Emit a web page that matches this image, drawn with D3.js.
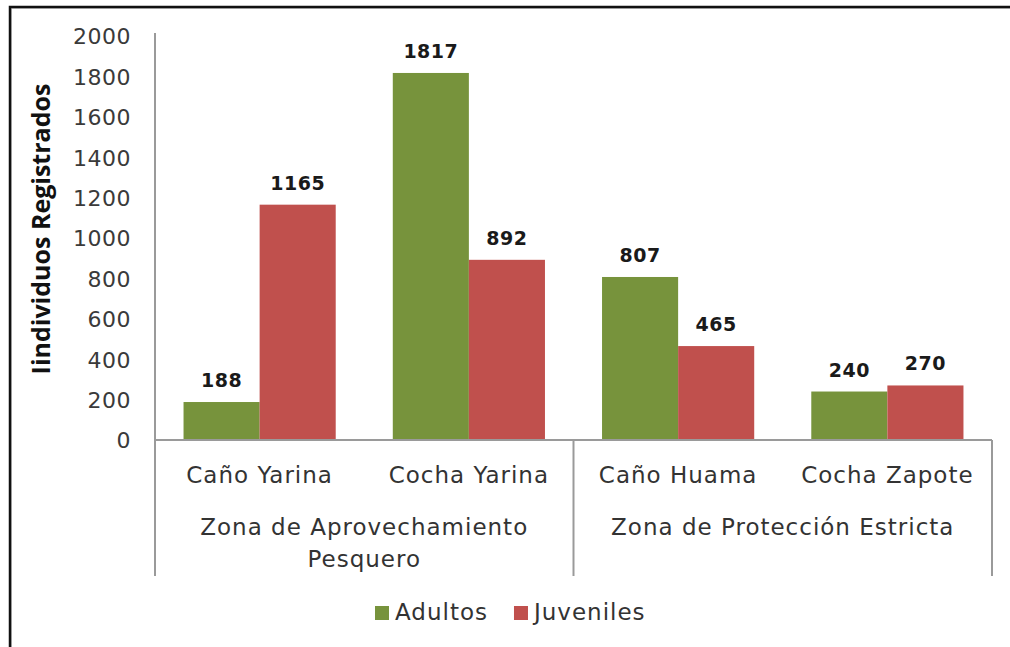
<!DOCTYPE html>
<html>
<head>
<meta charset="utf-8">
<script src="https://cdn.jsdelivr.net/npm/d3@7"></script>
<style>
  body { margin: 0; background: #fff; }
  svg { display: block; }
  text { font-family: "DejaVu Sans", sans-serif; fill: #333; }
</style>
</head>
<body>
<div id="chart"></div>
<script>
//data
var categories = ["Caño Yarina", "Cocha Yarina", "Caño Huama", "Cocha Zapote"];
var groupNames = ["Zona de Aprovechamiento Pesquero", "Zona de Protección Estricta"];
var groupOf = [0, 0, 1, 1];
var seriesNames = ["Adultos", "Juveniles"];
var adultos = [188, 1817, 807, 240];
var juveniles = [1165, 892, 465, 270];
var seriesColors = ["#77933C", "#C0504D"];
var yTicks = [0, 200, 400, 600, 800, 1000, 1200, 1400, 1600, 1800, 2000];

var width = 1010, height = 647;
var plot = {left: 155, right: 992, top: 36, bottom: 440};
var sepBottom = 576;

var svg = d3.select("#chart").append("svg")
  .attr("width", width)
  .attr("height", height);

//frame (only top and left edges show in the picture)
svg.append("path")
  .attr("d", "M10,648 V7 H1011")
  .attr("fill", "none")
  .attr("stroke", "#c8c8c8")
  .attr("stroke-width", 2)
  .attr("transform", "translate(1,1)");
svg.append("path")
  .attr("d", "M10,648 V7 H1011")
  .attr("fill", "none")
  .attr("stroke", "#111")
  .attr("stroke-width", 2.5);

//scales
var x = d3.scaleBand()
  .domain(categories)
  .range([plot.left, plot.right]);

var xs = d3.scaleBand()
  .domain(seriesNames)
  .range([0, x.bandwidth()])
  .paddingOuter(0.375);

var y = d3.scaleLinear()
  .domain([0, 2000])
  .range([plot.bottom, plot.top]);

var rows = categories.map(function(c, i) {
  return {cat: c, values: [adultos[i], juveniles[i]]};
});

//bars
var g = svg.selectAll(".cat")
  .data(rows)
  .enter().append("g")
  .attr("class", "cat")
  .attr("transform", function(d) { return "translate(" + x(d.cat) + ",0)"; });

g.selectAll("rect")
  .data(function(d) { return d.values.map(function(v, j) { return {s: seriesNames[j], v: v, j: j}; }); })
  .enter().append("rect")
  .attr("x", function(d) { return xs(d.s); })
  .attr("y", function(d) { return y(d.v); })
  .attr("width", xs.bandwidth())
  .attr("height", function(d) { return y(0) - y(d.v); })
  .attr("fill", function(d) { return seriesColors[d.j]; });

//value labels
g.selectAll("text.val")
  .data(function(d) { return d.values.map(function(v, j) { return {s: seriesNames[j], v: v}; }); })
  .enter().append("text")
  .attr("class", "val")
  .attr("x", function(d) { return xs(d.s) + xs.bandwidth() / 2; })
  .attr("y", function(d) { return y(d.v) - 15; })
  .attr("text-anchor", "middle")
  .style("font-weight", "bold")
  .style("font-size", "19px")
  .style("letter-spacing", "0.5px")
  .style("fill", "#1a1a1a")
  .text(function(d) { return d.v; });

//y axis
var yAxis = d3.axisLeft(y).tickValues(yTicks).tickSize(0).tickPadding(0).tickFormat(d3.format("d"));
var ya = svg.append("g")
  .attr("transform", "translate(131,0)")
  .call(yAxis);
ya.select(".domain").remove();
ya.selectAll("text")
  .attr("dy", "0.36em")
  .style("font-family", "DejaVu Sans")
  .style("font-size", "22px")
  .style("letter-spacing", "0.5px")
  .style("fill", "#3a3a3a");

var axisColor = "#9a9a9a";
svg.append("line")
  .attr("x1", plot.left).attr("x2", plot.left)
  .attr("y1", plot.top - 3).attr("y2", sepBottom)
  .attr("stroke", axisColor).attr("stroke-width", 2);
svg.append("line")
  .attr("x1", plot.left).attr("x2", plot.right)
  .attr("y1", y(0)).attr("y2", y(0))
  .attr("stroke", axisColor).attr("stroke-width", 2);

//group separators
var seps = [];
groupOf.forEach(function(gi, i) {
  if (i == groupOf.length - 1 || groupOf[i + 1] != gi) seps.push(x(categories[i]) + x.bandwidth());
});
svg.selectAll(".sep")
  .data(seps)
  .enter().append("line")
  .attr("class", "sep")
  .attr("x1", function(d) { return d; }).attr("x2", function(d) { return d; })
  .attr("y1", y(0)).attr("y2", sepBottom)
  .attr("stroke", axisColor).attr("stroke-width", 2);

//category labels
svg.selectAll(".catlab")
  .data(categories)
  .enter().append("text")
  .attr("class", "catlab")
  .attr("x", function(d) { return x(d) + x.bandwidth() / 2; })
  .attr("y", 483)
  .attr("text-anchor", "middle")
  .style("font-size", "23px")
  .style("letter-spacing", "1px")
  .text(function(d) { return d; });

//group labels (wrapped)
groupNames.forEach(function(name, gi) {
  var idx = [];
  groupOf.forEach(function(v, i) { if (v == gi) idx.push(i); });
  var x0 = x(categories[idx[0]]);
  var x1 = x(categories[idx[idx.length - 1]]) + x.bandwidth();
  var cx = (x0 + x1) / 2;
  var maxW = x1 - x0 - 30;
  var t = svg.append("text")
    .attr("text-anchor", "middle")
    .style("font-size", "23px")
    .style("letter-spacing", "1px");
  var words = name.split(" ");
  var line = [];
  var lineNo = 0;
  var ts = t.append("tspan").attr("x", cx).attr("y", 535);
  words.forEach(function(w) {
    line.push(w);
    ts.text(line.join(" "));
    if (ts.node().getComputedTextLength() > maxW && line.length > 1) {
      line.pop();
      ts.text(line.join(" "));
      line = [w];
      lineNo++;
      ts = t.append("tspan").attr("x", cx).attr("y", 535 + lineNo * 32).text(w);
    }
  });
});

//y axis title
svg.append("text")
  .attr("transform", "translate(50,229) rotate(-90)")
  .attr("text-anchor", "middle")
  .style("font-family", "'Open Sans', sans-serif")
  .style("font-weight", "bold")
  .style("font-size", "25px")
  .style("fill", "#111")
  .text("Iindividuos Registrados");

//legend
var legend = svg.append("g").attr("transform", "translate(375,0)");
var lx = 0;
seriesNames.forEach(function(s, i) {
  legend.append("rect")
    .attr("x", lx).attr("y", 606)
    .attr("width", 14).attr("height", 14)
    .attr("fill", seriesColors[i]);
  var lt = legend.append("text")
    .attr("x", lx + 20).attr("y", 620)
    .style("font-size", "23px")
    .style("letter-spacing", "1px")
    .text(s);
  lx += 20 + lt.node().getComputedTextLength() + 26;
});
</script>
</body>
</html>
